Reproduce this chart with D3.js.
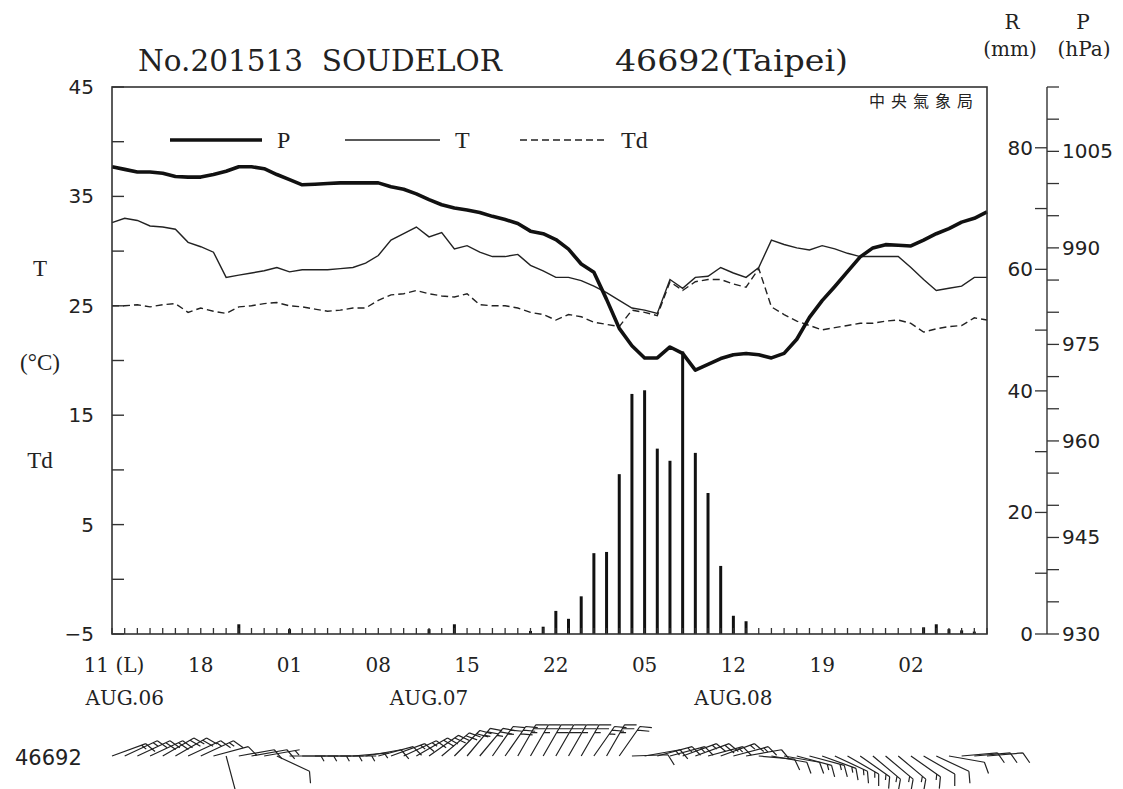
<!DOCTYPE html>
<html>
<head>
<meta charset="utf-8">
<script src="https://cdn.jsdelivr.net/npm/d3@7"></script>
<style>
body { margin: 0; background: #fff; }
text { fill: #222; }
</style>
</head>
<body>
<div id="vis"></div>
<script>
var width = 1123,
	height = 789;

// hourly obs, AUG.06 11(L) -> AUG.09 08(L)
var hourIndex = [0,1,2,3,4,5,6,7,8,9,10,11,12,13,14,15,16,17,18,19,20,21,22,23,24,25,26,27,28,29,
	30,31,32,33,34,35,36,37,38,39,40,41,42,43,44,45,46,47,48,49,50,51,52,53,54,55,56,57,58,59,
	60,61,62,63,64,65,66,67,68,69];

var pressure = [1002.6,1002.2,1001.8,1001.8,1001.6,1001.1,1001.0,1001.0,1001.4,1001.9,
	1002.6,1002.6,1002.3,1001.4,1000.6,999.8,999.9,1000.0,1000.1,1000.1,
	1000.1,1000.1,999.5,999.1,998.4,997.5,996.7,996.2,995.9,995.5,
	994.9,994.4,993.8,992.6,992.2,991.3,989.8,987.5,986.2,982.0,
	977.5,974.8,972.9,972.9,974.6,973.6,971.0,971.9,972.8,973.4,
	973.6,973.4,972.9,973.6,975.8,979.2,981.8,984.0,986.3,988.6,
	990.0,990.5,990.4,990.3,991.2,992.2,993.0,994.0,994.6,995.6];

var temp = [32.6,33.0,32.8,32.3,32.2,32.0,30.8,30.4,29.9,27.6,
	27.8,28.0,28.2,28.5,28.1,28.3,28.3,28.3,28.4,28.5,
	28.9,29.6,31.0,31.6,32.2,31.3,31.7,30.2,30.5,29.9,
	29.5,29.5,29.7,28.7,28.2,27.6,27.6,27.3,26.8,26.2,
	25.5,24.8,24.6,24.3,27.4,26.6,27.6,27.7,28.5,28.0,
	27.6,28.5,31.0,30.6,30.3,30.1,30.5,30.2,29.8,29.5,
	29.5,29.5,29.5,28.5,27.4,26.4,26.6,26.8,27.6,27.6];

var dewpoint = [25.0,25.0,25.1,24.9,25.1,25.2,24.4,24.8,24.5,24.3,
	24.9,25.0,25.2,25.3,25.0,24.9,24.7,24.5,24.6,24.8,
	24.8,25.5,26.0,26.1,26.4,26.1,25.9,25.8,26.1,25.1,
	25.0,25.0,24.8,24.4,24.2,23.7,24.2,24.0,23.5,23.3,
	23.1,24.6,24.4,24.1,27.2,26.4,27.2,27.4,27.4,27.0,
	26.7,28.4,24.9,24.2,23.6,23.2,22.8,23.0,23.2,23.4,
	23.4,23.6,23.7,23.4,22.6,22.9,23.1,23.2,23.9,23.7];

var rain = [0,0,0,0,0,0,0,0,0,0,
	1.6,0,0,0,0.8,0,0,0,0,0,
	0,0,0,0,0,0.8,0,1.6,0,0,
	0,0,0,0.5,1.2,3.8,2.5,6.2,13.3,13.5,
	26.3,39.5,40.1,30.5,28.5,46.5,29.8,23.2,11.2,3.0,
	2.1,0,0,0,0,0,0,0,0,0,
	0,0,0,0,1.1,1.6,0.8,0.6,0.4,0];

var windDir = [70,65,65,65,60,60,65,65,75,165,
	80,80,80,115,90,90,90,90,90,85,
	80,75,70,65,60,55,50,45,40,40,
	35,35,30,30,30,30,30,30,35,30,
	35,88,80,75,75,70,70,75,70,75,
	80,95,100,100,105,105,110,115,120,125,
	130,130,130,125,120,115,100,85,85,85];

var windSpd = [15,15,20,20,20,20,15,15,10,10,
	10,10,5,10,5,5,5,5,5,5,
	10,10,15,15,20,20,20,20,25,25,
	25,30,25,25,30,30,25,25,25,25,
	20,10,15,15,15,15,20,15,15,15,
	10,10,10,10,15,15,15,15,15,15,
	15,15,15,15,10,10,10,10,10,10];

var hourTicks = [0,7,14,21,28,35,42,49,56,63];
var hourLabels = ["11 (L)","18","01","08","15","22","05","12","19","02"];
var dayTicks = [1,25,49];
var dayLabels = ["AUG.06","AUG.07","AUG.08"];

var tTicks = [45,35,25,15,5,-5];
var rTicks = [0,20,40,60,80];
var pTicks = [930,945,960,975,990,1005];

var x0 = 112, x1 = 987, yTop = 87, yBot = 634;

var x = d3.scaleLinear().domain([0, 69]).range([x0, x1]),
	yT = d3.scaleLinear().domain([-5, 45]).range([yBot, yTop]),
	yR = d3.scaleLinear().domain([0, 90]).range([yBot, yTop]),
	yP = d3.scaleLinear().domain([930, 1015]).range([yBot, yTop]);

var svg = d3.select('#vis')
	.append('svg')
	.attr('width', width)
	.attr('height', height)
	.style('font-family', '"DejaVu Sans", sans-serif');

// title
svg.append('text').attr('x', 138).attr('y', 71)
	.attr('textLength', 364).attr('lengthAdjust', 'spacingAndGlyphs')
	.style('font-family', '"DejaVu Serif", serif').style('font-size', '29px')
	.text('No.201513\u00a0\u00a0SOUDELOR');
svg.append('text').attr('x', 615).attr('y', 71)
	.attr('textLength', 233).attr('lengthAdjust', 'spacingAndGlyphs')
	.style('font-family', '"DejaVu Serif", serif').style('font-size', '29px')
	.text('46692(Taipei)');

// right axis headers
var hdr = svg.append('g').style('font-family', '"DejaVu Serif", serif').style('font-size', '20px').attr('text-anchor', 'middle');
hdr.append('text').attr('x', 1012).attr('y', 29).text('R');
hdr.append('text').attr('x', 1083).attr('y', 29).text('P');
hdr.append('text').attr('x', 1010).attr('y', 56).text('(mm)');
hdr.append('text').attr('x', 1084).attr('y', 56).text('(hPa)');

// rain bars
svg.append('g').selectAll('line')
	.data(hourIndex.filter(function(h) { return rain[h] > 0; }))
	.enter().append('line')
	.attr('x1', function(h) { return x(h); })
	.attr('x2', function(h) { return x(h); })
	.attr('y1', yR(0))
	.attr('y2', function(h) { return yR(rain[h]); })
	.style('stroke', '#111')
	.style('stroke-width', 3);

// lines
var lineT = d3.line().x(function(h) { return x(h); }).y(function(h) { return yT(temp[h]); });
var lineTd = d3.line().x(function(h) { return x(h); }).y(function(h) { return yT(dewpoint[h]); });
var lineP = d3.line().x(function(h) { return x(h); }).y(function(h) { return yP(pressure[h]); });

svg.append('path').attr('d', lineTd(hourIndex))
	.style('fill', 'none').style('stroke', '#222').style('stroke-width', 1.4).style('stroke-dasharray', '7,4');
svg.append('path').attr('d', lineT(hourIndex))
	.style('fill', 'none').style('stroke', '#222').style('stroke-width', 1.4);
svg.append('path').attr('d', lineP(hourIndex))
	.style('fill', 'none').style('stroke', '#111').style('stroke-width', 3.6).style('stroke-linejoin', 'round');

// frame
svg.append('rect').attr('x', x0).attr('y', yTop).attr('width', x1 - x0).attr('height', yBot - yTop)
	.style('fill', 'none').style('stroke', '#333').style('stroke-width', 1.6);

// left ticks (inward)
var tAll = [45,40,35,30,25,20,15,10,5,0,-5];
svg.append('g').selectAll('line').data(tAll).enter().append('line')
	.attr('x1', x0).attr('x2', x0 + 12)
	.attr('y1', function(d) { return yT(d); }).attr('y2', function(d) { return yT(d); })
	.style('stroke', '#333').style('stroke-width', 1.4);
svg.append('g').selectAll('text').data(tTicks).enter().append('text')
	.attr('x', 94).attr('y', function(d) { return yT(d) + 7; })
	.attr('text-anchor', 'end').style('font-size', '20px')
	.text(function(d) { return d < 0 ? '\u2212' + Math.abs(d) : d; });

var lab = svg.append('g').style('font-family', '"Liberation Serif", serif').style('font-size', '23px').attr('text-anchor', 'middle');
lab.append('text').attr('x', 40).attr('y', 276).text('T');
lab.append('text').attr('x', 40).attr('y', 370).text('(\u00b0C)');
lab.append('text').attr('x', 40).attr('y', 468).text('Td');

// bottom hourly ticks
svg.append('g').selectAll('line').data(hourIndex).enter().append('line')
	.attr('x1', function(h) { return x(h); }).attr('x2', function(h) { return x(h); })
	.attr('y1', yBot).attr('y2', yBot - 6)
	.style('stroke', '#333').style('stroke-width', 1.3);

var xl = svg.append('g').style('font-family', '"DejaVu Serif", serif').style('font-size', '20px').attr('text-anchor', 'middle');
xl.selectAll('text.h').data(hourTicks).enter().append('text').attr('class', 'h')
	.attr('x', function(h, i) { return x(h) + (i === 0 ? 2 : 0); }).attr('y', 672)
	.text(function(h, i) { return hourLabels[i]; });
xl.selectAll('text.d').data(dayTicks).enter().append('text').attr('class', 'd')
	.attr('x', function(h) { return x(h); }).attr('y', 705)
	.text(function(h, i) { return dayLabels[i]; });

// right axis R / P
var ax = 1047;
svg.append('line').attr('x1', ax).attr('x2', ax).attr('y1', yTop).attr('y2', yBot)
	.style('stroke', '#333').style('stroke-width', 1.4);
svg.append('g').selectAll('line').data([0,10,20,30,40,50,60,70,80]).enter().append('line')
	.attr('x1', ax - 12).attr('x2', ax)
	.attr('y1', function(d) { return yR(d); }).attr('y2', function(d) { return yR(d); })
	.style('stroke', '#333').style('stroke-width', 1.3);
svg.append('g').selectAll('line').data(d3.range(930, 1016, 5)).enter().append('line')
	.attr('x1', ax).attr('x2', ax + 12)
	.attr('y1', function(d) { return yP(d); }).attr('y2', function(d) { return yP(d); })
	.style('stroke', '#333').style('stroke-width', 1.3);
svg.append('g').selectAll('text').data(rTicks).enter().append('text')
	.attr('x', ax - 14).attr('y', function(d) { return yR(d) + 7; })
	.attr('text-anchor', 'end').style('font-size', '20px')
	.text(function(d) { return d; });
svg.append('g').selectAll('text').data(pTicks).enter().append('text')
	.attr('x', ax + 15).attr('y', function(d) { return yP(d) + 7; })
	.style('font-size', '20px')
	.text(function(d) { return d; });

// legend
var leg = svg.append('g');
leg.append('line').attr('x1', 170).attr('x2', 262).attr('y1', 140).attr('y2', 140)
	.style('stroke', '#111').style('stroke-width', 3.6);
leg.append('line').attr('x1', 345).attr('x2', 440).attr('y1', 140).attr('y2', 140)
	.style('stroke', '#222').style('stroke-width', 1.4);
leg.append('line').attr('x1', 520).attr('x2', 607).attr('y1', 140).attr('y2', 140)
	.style('stroke', '#222').style('stroke-width', 1.4).style('stroke-dasharray', '7,4');
var lt = leg.append('g').style('font-family', '"Liberation Serif", serif').style('font-size', '24px');
lt.append('text').attr('x', 277).attr('y', 148).text('P');
lt.append('text').attr('x', 455).attr('y', 148).text('T');
lt.append('text').attr('x', 621).attr('y', 148).text('Td');

svg.append('text').attr('x', 979).attr('y', 107).attr('text-anchor', 'end')
	.style('font-family', '"Noto Sans CJK TC", sans-serif').style('font-size', '16px')
	.style('letter-spacing', '6px')
	.text('中央氣象局');

// wind barbs
svg.append('text').attr('x', 15).attr('y', 765).style('font-size', '21px').text('46692');

var baseY = 756, staff = 36, feat = 12, gap = 4.5;
function barbPath(bx, dir, spd) {
	var r = dir * Math.PI / 180;
	var ux = Math.sin(r), uy = -Math.cos(r);
	var px = -uy, py = ux;
	var fx = px * 0.87 + ux * 0.5, fy = py * 0.87 + uy * 0.5;
	var p = d3.path();
	p.moveTo(bx, baseY);
	p.lineTo(bx + ux * staff, baseY + uy * staff);
	var n = Math.round(spd / 5), full = Math.floor(n / 2), half = n % 2;
	var pos = 0;
	for (var i = 0; i < full; i++) {
		var sx = bx + ux * (staff - pos), sy = baseY + uy * (staff - pos);
		p.moveTo(sx, sy);
		p.lineTo(sx + fx * feat, sy + fy * feat);
		pos += gap;
	}
	if (half) {
		if (full === 0) pos = gap;
		var hx = bx + ux * (staff - pos), hy = baseY + uy * (staff - pos);
		p.moveTo(hx, hy);
		p.lineTo(hx + fx * feat / 2, hy + fy * feat / 2);
	}
	return p.toString();
}

svg.append('g').selectAll('path').data(hourIndex).enter().append('path')
	.attr('d', function(h) { return barbPath(x(h), windDir[h], windSpd[h]); })
	.style('fill', 'none').style('stroke', '#222').style('stroke-width', 1.2);
</script>
</body>
</html>
